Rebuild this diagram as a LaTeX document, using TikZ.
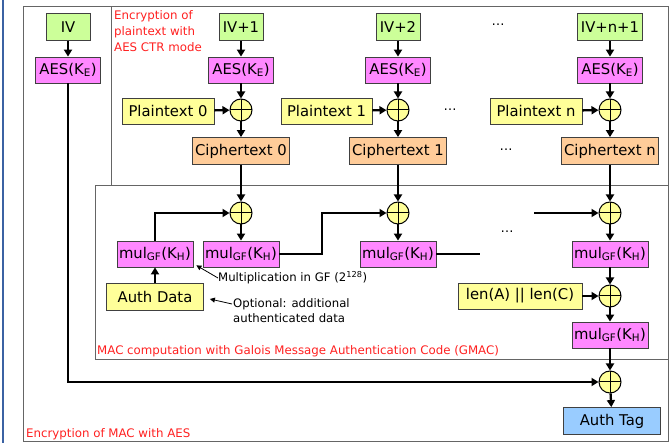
\documentclass[tikz,border=0pt]{standalone}
\usepackage{fontspec}
\setmainfont{DejaVu Sans}
\usepackage{xcolor}
\usetikzlibrary{arrows.meta,calc,positioning}
\definecolor{ivgreen}{HTML}{CCFF99}
\definecolor{aespink}{HTML}{FF88FF}
\definecolor{ptyellow}{HTML}{FFFF99}
\definecolor{ctorange}{HTML}{FFCC99}
\definecolor{tagblue}{HTML}{99CCFF}
\definecolor{framegray}{HTML}{656565}
\definecolor{slideblue}{HTML}{3B62A3}
\definecolor{notered}{HTML}{FF2020}

\begin{document}
\begin{tikzpicture}[x=1pt,y=-1pt,
    box/.style={draw=black!75,line width=0.8pt,inner sep=0pt,minimum height=26pt,
      font=\fontsize{14.8}{17}\selectfont},
    ivbox/.style={box,fill=ivgreen},
    aesbox/.style={box,fill=aespink,minimum width=65pt},
    ptbox/.style={box,fill=ptyellow},
    ctbox/.style={box,fill=ctorange,minimum width=97pt},
    mulbox/.style={box,fill=aespink,minimum width=76pt},
    tagbox/.style={box,fill=tagblue},
    xorc/.style={circle,draw,line width=1pt,fill=ptyellow,minimum size=22pt,inner sep=0pt,
      path picture={\draw[line width=1pt]
        (path picture bounding box.north) -- (path picture bounding box.south)
        (path picture bounding box.west) -- (path picture bounding box.east);}},
    flow/.style={line width=2.3pt,-{Triangle[length=7pt,width=8pt]}},
    flowline/.style={line width=2.3pt},
    note/.style={line width=0.8pt,-{Triangle[length=5pt,width=5pt]}},
    notetext/.style={font=\fontsize{11.7}{15.5}\selectfont,inner sep=0pt,align=left},
    frametext/.style={font=\fontsize{11.8}{16}\selectfont,text=notered,inner sep=0pt,align=left},
    ellip/.style={font=\fontsize{13}{14}\selectfont,inner sep=0pt,anchor=base},
    frame/.style={draw=framegray,line width=0.9pt},
  ]
  \useasboundingbox (0,0) rectangle (672,443);
  % frames
  \draw[slideblue,line width=2.5pt] (3,0) -- (3,443);
  \draw[frame] (23.5,6) rectangle (668,441);
  \draw[frame] (111,6) rectangle (668,185);
  \draw[frame] (95,185) rectangle (668,359);
  \node[frametext,anchor=north west] at (114,10) {Encryption of\\plaintext with\\AES CTR mode};
  \node[frametext,anchor=base west] at (97,355) {MAC computation with Galois Message Authentication Code (GMAC)};
  \node[frametext,anchor=base west] at (26,437) {Encryption of MAC with AES};

  % counter mode
  \node[ivbox,minimum width=44pt,minimum height=27pt] (iv0) at (68,27) {IV};
  \node[aesbox] (aes0) at (68,70) {AES(K\textsubscript{E})};
  \node[ivbox,minimum width=44pt,minimum height=27pt] (iv1) at (241,27) {IV+1};
  \node[aesbox] (aes1) at (241,70) {AES(K\textsubscript{E})};
  \node[xorc] (x1) at (241,110) {};
  \node[ptbox,minimum width=92pt] (pt0) at (168,111) {Plaintext 0};
  \node[ctbox,minimum height=27pt] (ct0) at (241,151) {Ciphertext 0};
  \node[ivbox,minimum width=44pt,minimum height=27pt] (iv2) at (398,27) {IV+2};
  \node[aesbox] (aes2) at (398,70) {AES(K\textsubscript{E})};
  \node[xorc] (x2) at (398,110) {};
  \node[ptbox,minimum width=91pt] (pt1) at (326.5,111) {Plaintext 1};
  \node[ctbox,minimum height=27pt] (ct1) at (398,151) {Ciphertext 1};
  \node[ivbox,minimum width=65pt,minimum height=27pt] (ivn) at (610,27) {IV+n+1};
  \node[aesbox] (aesn) at (610,70) {AES(K\textsubscript{E})};
  \node[xorc] (xn) at (610,110) {};
  \node[ptbox,minimum width=92pt] (ptn) at (536,111) {Plaintext n};
  \node[ctbox,minimum height=27pt] (ctn) at (610,151) {Ciphertext n};
  \node[ellip] at (498,26) {\dots};
  \node[ellip] at (450,111) {\dots};
  \node[ellip] at (506,151) {\dots};

  % GMAC
  \node[xorc] (xg1) at (241,213) {};
  \node[mulbox] (mA) at (155,254) {mul\textsubscript{GF}(K\textsubscript{H})};
  \node[mulbox] (m1) at (241,254) {mul\textsubscript{GF}(K\textsubscript{H})};
  \node[ptbox,minimum width=97pt,minimum height=27pt] (ad) at (155,297) {Auth Data};
  \node[xorc] (xg2) at (398,213) {};
  \node[mulbox] (m2) at (398,254) {mul\textsubscript{GF}(K\textsubscript{H})};
  \node[xorc] (xgn) at (610,213) {};
  \node[mulbox] (mn) at (610,254) {mul\textsubscript{GF}(K\textsubscript{H})};
  \node[xorc] (xl) at (610,296) {};
  \node[ptbox,minimum width=124pt] (len) at (520,296) {len(A) || len(C)};
  \node[mulbox] (ml) at (610,335) {mul\textsubscript{GF}(K\textsubscript{H})};
  \node[ellip] at (507,233) {\dots};
  \coordinate (bend1) at (322,254);
  \coordinate (gap1) at (480,254);
  \coordinate (gap2) at (534,213);

  % final tag
  \node[xorc] (xf) at (610,382) {};
  \node[tagbox,minimum width=97pt,minimum height=27pt] (tag) at (612,421) {Auth Tag};

  % notes
  \node[notetext,anchor=west] (mullbl) at (218,278) {Multiplication in GF (2\textsuperscript{128})};
  \node[notetext,anchor=north west] (optlbl) at (233,298) {Optional: additional\\authenticated data};
  \draw[note] (mullbl.west) -- ([shift={(3,-2)}]mA.south east);
  \draw[note] ($(optlbl.north west)+(-1,6)$) -- ($(ad.east)+(6,2)$);

  % connectors
  \foreach \k in {0,1,2,n} {
    \draw[flow] (iv\k) -- (aes\k);
  }
  \foreach \k/\p in {1/0,2/1,n/n} {
    \draw[flow] (aes\k) -- (x\k);
    \draw[flow] (pt\p) -- (x\k);
    \draw[flow] (x\k) -- (ct\p);
  }
  \draw[flow] (ct0) -- (xg1);
  \draw[flow] (ct1) -- (xg2);
  \draw[flow] (ctn) -- (xgn);
  \draw[flow] (xg1) -- (m1);
  \draw[flow] (xg2) -- (m2);
  \draw[flow] (xgn) -- (mn);
  \draw[flow] (ad) -- (mA);
  \draw[flow] (mA.north) |- (xg1.west);
  \draw[flow] (m1.east) -- (bend1) |- (xg2.west);
  \draw[flowline] (m2.east) -- (gap1);
  \draw[flow] (gap2) -- (xgn.west);
  \draw[flow] (mn) -- (xl);
  \draw[flow] (len) -- (xl);
  \draw[flow] (xl) -- (ml);
  \draw[flow] (ml) -- (xf);
  \draw[flow] (aes0.south) |- (xf.west);
  \draw[flow] (xf) -- (tag);
\end{tikzpicture}
\end{document}
